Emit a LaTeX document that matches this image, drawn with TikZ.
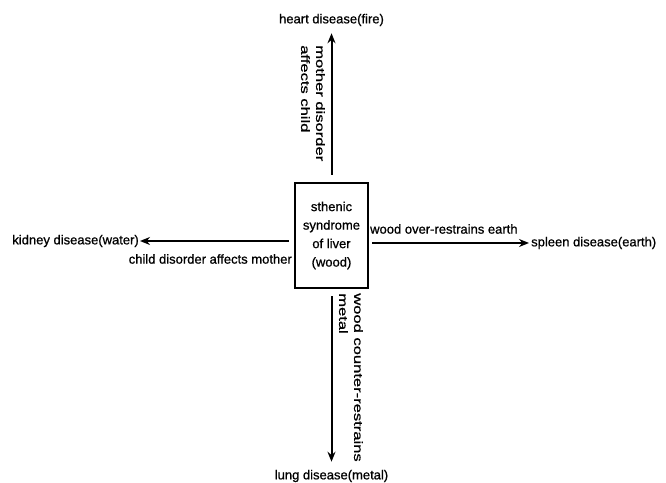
\documentclass[tikz,border=0pt]{standalone}
\usepackage{fontspec}
\setmainfont{Liberation Sans}
\newfontfamily\diagfont{Liberation Sans}[FakeBold=0.8]
\usepackage{tikz}
\usetikzlibrary{shapes,arrows.meta}

\begin{document}
\begin{tikzpicture}[x=1pt,y=1pt,
		lbl/.style={inner sep=0pt, font=\diagfont\fontsize{13}{18.5}\selectfont},
		vlbl/.style={inner sep=0pt, rotate=-90, xscale=1.38, anchor=north west, align=left, font=\diagfont\fontsize{12}{15}\selectfont},
		arr/.style={line width=2pt, -{Stealth[length=10pt,width=8pt]}}]
			\useasboundingbox (0,0) rectangle (666,482);
			\node[lbl, draw, line width=2.2pt, minimum width=73pt, minimum height=105pt, align=center] (liver) at (331.5,246.5) {sthenic\\syndrome\\of liver\\(wood)};
			\node[lbl] (heart) at (331.5,462) {heart disease(fire)};
			\node[lbl, anchor=east] (kidney) at (139,241) {kidney disease(water)};
			\node[lbl, anchor=west] (spleen) at (531,239) {spleen disease(earth)};
			\node[lbl] (lung) at (331.5,6) {lung disease(metal)};
			\draw[arr, shorten <=7pt, shorten >=7pt] (liver.north) -- (heart.south);
			\draw[arr, shorten <=5pt, shorten >=1pt] (liver.west |- kidney.east) -- (kidney.east);
			\draw[arr, shorten <=3pt, shorten >=2pt] (liver.east |- spleen.west) -- (spleen.west);
			\draw[arr, shorten <=7pt, shorten >=8pt] (liver.south) -- (lung.north);
			\node[vlbl] (mother) at (325,437) {mother disorder\\affects child};
			\node[vlbl] (counter) at (363,189) {wood counter-restrains\\metal};
			\node[lbl, anchor=east] (child) at (292,223) {child disorder affects mother};
			\node[lbl, anchor=west] (over) at (370,253) {wood over-restrains earth};
		\end{tikzpicture}
\end{document}
